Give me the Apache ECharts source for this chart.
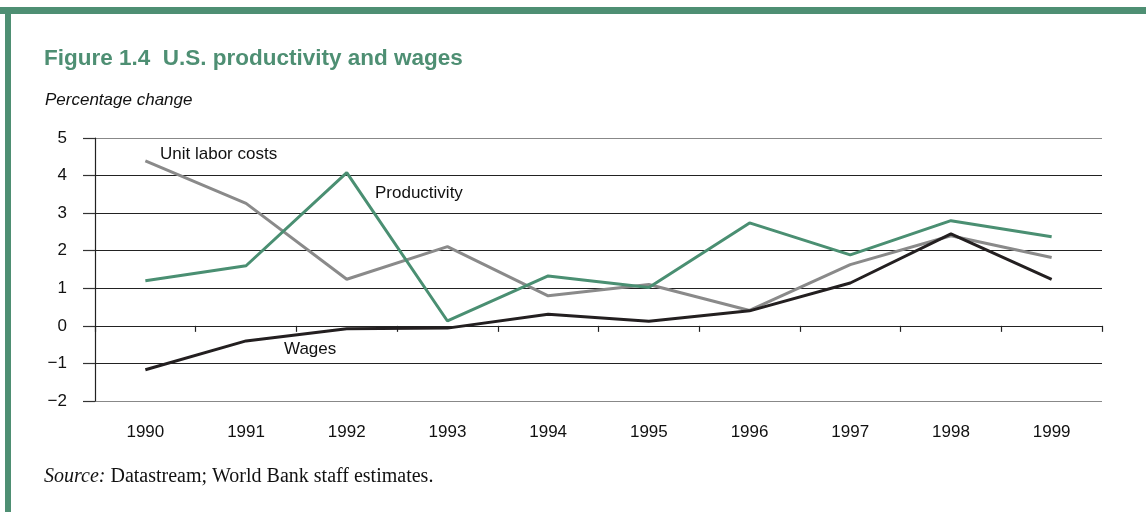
<!DOCTYPE html>
<html>
<head>
<meta charset="utf-8">
<script src="https://cdn.jsdelivr.net/npm/echarts@6/dist/echarts.min.js"></script>
<style>
  html, body { margin: 0; padding: 0; background: #fff; }
  #main { width: 1146px; height: 512px; }
</style>
</head>
<body>
<div id="main"></div>
<script>
// data
var years = ["1990", "1991", "1992", "1993", "1994", "1995", "1996", "1997", "1998", "1999"];
var productivity = [1.2, 1.6, 4.08, 0.13, 1.33, 1.02, 2.74, 1.89, 2.8, 2.37];
var unitLaborCosts = [4.39, 3.26, 1.24, 2.11, 0.8, 1.1, 0.41, 1.63, 2.4, 1.82];
var wages = [-1.17, -0.4, -0.08, -0.06, 0.31, 0.12, 0.4, 1.14, 2.45, 1.24];

var green = "#4e8f73";
var sans = "Liberation Sans, Arial, sans-serif";
var serif = "Liberation Serif, serif";

var chart = echarts.init(document.getElementById("main"));

chart.setOption({
  animation: false,
  backgroundColor: "#fff",
  title: [
    {
      text: "Figure 1.4  U.S. productivity and wages",
      left: 44,
      top: 47,
      padding: 0,
      textStyle: { color: green, fontFamily: sans, fontWeight: "bold", fontSize: 22.5 }
    },
    {
      text: "Percentage change",
      left: 45,
      top: 92,
      padding: 0,
      textStyle: { color: "#111", fontFamily: sans, fontStyle: "italic", fontWeight: "normal", fontSize: 17 }
    },
    {
      text: "{i|Source:} {n|Datastream; World Bank staff estimates.}",
      left: 44,
      top: 467,
      padding: 0,
      textStyle: {
        fontWeight: "normal",
        rich: {
          i: { fontFamily: serif, fontStyle: "italic", fontWeight: "normal", fontSize: 20, color: "#111" },
          n: { fontFamily: serif, fontWeight: "normal", fontSize: 20, color: "#111" }
        }
      }
    }
  ],
  graphic: [
    { type: "rect", shape: { x: 0, y: 7, width: 1146, height: 7 }, style: { fill: green } },
    { type: "rect", shape: { x: 5, y: 7, width: 6, height: 505 }, style: { fill: green } },
    { type: "text", left: 160, top: 146, style: { text: "Unit labor costs", font: "17px " + sans, fill: "#111" } },
    { type: "text", left: 375, top: 185, style: { text: "Productivity", font: "17px " + sans, fill: "#111" } },
    { type: "text", left: 284, top: 341, style: { text: "Wages", font: "17px " + sans, fill: "#111" } }
  ],
  grid: { left: 95, right: 44, top: 138, bottom: 111 },
  xAxis: [
    {
      type: "category",
      data: years,
      position: "bottom",
      boundaryGap: true,
      axisLine: { show: false, onZero: false },
      axisTick: { show: false },
      axisLabel: { margin: 23, fontFamily: sans, fontSize: 17, color: "#111" }
    },
    {
      type: "category",
      data: years,
      position: "bottom",
      boundaryGap: true,
      axisLine: { show: true, onZero: true, lineStyle: { color: "#222", width: 1.2 } },
      axisTick: { show: true, length: 6, lineStyle: { color: "#222", width: 1.2 } },
      axisLabel: { show: false }
    }
  ],
  yAxis: {
    type: "value",
    min: -2,
    max: 5,
    interval: 1,
    axisLine: { show: true, lineStyle: { color: "#222", width: 1.2 } },
    axisTick: { show: true, length: 12, lineStyle: { color: "#333", width: 1.2 } },
    axisLabel: {
      margin: 28,
      fontFamily: sans,
      fontSize: 17,
      color: "#111",
      formatter: function (v) { return String(v).replace("-", "\u2212"); }
    },
    splitLine: {
      lineStyle: {
        color: ["#888", "#222", "#222", "#222", "#222", "#222", "#222", "#888"],
        width: 1.2
      }
    }
  },
  series: [
    {
      name: "Unit labor costs",
      type: "line",
      data: unitLaborCosts,
      symbol: "none",
      lineStyle: { color: "#8a8a8a", width: 3 },
      z: 3
    },
    {
      name: "Productivity",
      type: "line",
      data: productivity,
      symbol: "none",
      lineStyle: { color: "#4a8f72", width: 3 },
      z: 4
    },
    {
      name: "Wages",
      type: "line",
      data: wages,
      symbol: "none",
      lineStyle: { color: "#231f20", width: 3 },
      z: 5
    }
  ]
});
</script>
</body>
</html>
